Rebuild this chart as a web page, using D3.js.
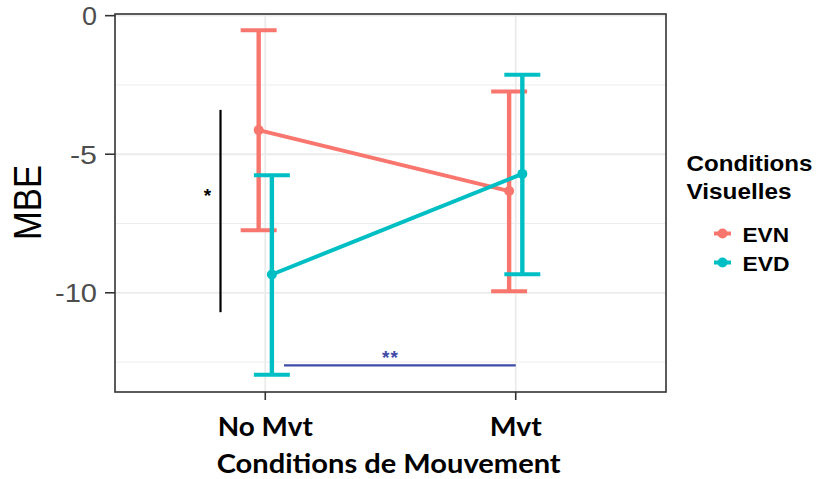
<!DOCTYPE html>
<html><head><meta charset="utf-8">
<script src="https://cdn.jsdelivr.net/npm/d3@7"></script>
<style>body{margin:0;background:#fff}svg{display:block}</style>
</head><body>
<svg id="c" width="819" height="479"></svg>
<script>
const categories = ["No Mvt", "Mvt"];
const seriesNames = ["EVN", "EVD"];
const colors = ["#F8766D", "#00BFC4"];
const meanEVN = [-4.13, -6.33];
const lowEVN = [-7.74, -9.94];
const highEVN = [-0.53, -2.74];
const meanEVD = [-9.34, -5.71];
const lowEVD = [-12.96, -9.33];
const highEVD = [-5.76, -2.13];
const yTicks = [0, -5, -10];
const yMinor = [-2.5, -7.5, -12.5];
const yDomain = [-13.58, 0.06];

const series = [
  {name: seriesNames[0], color: colors[0], mean: meanEVN, low: lowEVN, high: highEVN, dodge: -1},
  {name: seriesNames[1], color: colors[1], mean: meanEVD, low: lowEVD, high: highEVD, dodge: 1}
];

const svg = d3.select("#c");
const L = 115, R = 666, T = 14, B = 392;
const x = d3.scalePoint().domain(categories).range([L, R]).padding(0.6);
const y = d3.scaleLinear().domain(yDomain).range([B, T]);
const dodgePx = 6.6;

// grid
const g = svg.append("g");
g.selectAll(".minor").data(yMinor).join("line")
  .attr("x1", L).attr("x2", R).attr("y1", d => y(d)).attr("y2", d => y(d))
  .attr("stroke", "#EBEBEB").attr("stroke-width", 0.9);
g.selectAll(".major").data(yTicks).join("line")
  .attr("x1", L).attr("x2", R).attr("y1", d => y(d)).attr("y2", d => y(d))
  .attr("stroke", "#EBEBEB").attr("stroke-width", 1.8);
g.selectAll(".vmajor").data(categories).join("line")
  .attr("x1", d => x(d)).attr("x2", d => x(d)).attr("y1", T).attr("y2", B)
  .attr("stroke", "#EBEBEB").attr("stroke-width", 1.8);

// error bars, lines, points
const capW = 18;
series.forEach(s => {
  const sg = svg.append("g");
  const xs = categories.map(c => x(c) + s.dodge * dodgePx);
  categories.forEach((c, i) => {
    sg.append("line").attr("x1", xs[i]).attr("x2", xs[i])
      .attr("y1", y(s.low[i])).attr("y2", y(s.high[i]))
      .attr("stroke", s.color).attr("stroke-width", 4.4);
    [s.low[i], s.high[i]].forEach(v => {
      sg.append("line").attr("x1", xs[i] - capW).attr("x2", xs[i] + capW)
        .attr("y1", y(v)).attr("y2", y(v))
        .attr("stroke", s.color).attr("stroke-width", 4);
    });
  });
  const line = d3.line().x((d, i) => xs[i]).y(d => y(d));
  sg.append("path").attr("d", line(s.mean)).attr("fill", "none")
    .attr("stroke", s.color).attr("stroke-width", 4);
  sg.selectAll("circle").data(s.mean).join("circle")
    .attr("cx", (d, i) => xs[i]).attr("cy", d => y(d)).attr("r", 5)
    .attr("fill", s.color);
});

// significance annotations
svg.append("line").attr("x1", 220.5).attr("x2", 220.5)
  .attr("y1", y(-3.4)).attr("y2", y(-10.7))
  .attr("stroke", "#000").attr("stroke-width", 2.2);
svg.append("text").attr("x", 207.5).attr("y", 202).attr("text-anchor", "middle")
  .attr("font-family", "Liberation Sans, Arial, sans-serif").attr("font-weight", "bold")
  .attr("font-size", 19).attr("fill", "#000").text("*");
svg.append("line").attr("x1", 284).attr("x2", x("Mvt"))
  .attr("y1", y(-12.62)).attr("y2", y(-12.62))
  .attr("stroke", "#3F4BA8").attr("stroke-width", 2.4);
svg.append("text").attr("x", 390.5).attr("y", 364).attr("text-anchor", "middle")
  .attr("font-family", "Liberation Sans, Arial, sans-serif").attr("font-weight", "bold")
  .attr("font-size", 19).attr("fill", "#3F4BA8").attr("letter-spacing", 1).text("**");

// panel border
svg.append("rect").attr("x", L).attr("y", T).attr("width", R - L).attr("height", B - T)
  .attr("fill", "none").attr("stroke", "#333").attr("stroke-width", 1.6);

// y axis ticks and labels
svg.selectAll(".yt").data(yTicks).join("line")
  .attr("x1", L - 10).attr("x2", L).attr("y1", d => y(d)).attr("y2", d => y(d))
  .attr("stroke", "#333").attr("stroke-width", 1.6);
svg.selectAll(".yl").data(yTicks).join("text")
  .attr("x", 97).attr("y", d => y(d) + 9.5).attr("text-anchor", "end")
  .attr("font-family", "Liberation Sans, Arial, sans-serif").attr("font-size", 25.5)
  .attr("fill", "#4D4D4D")
  .attr("textLength", d => String(d).length === 1 ? 15 : (String(d).length === 2 ? 27 : 42))
  .attr("lengthAdjust", "spacingAndGlyphs")
  .text(d => d);

// x axis ticks and labels
svg.selectAll(".xt").data(categories).join("line")
  .attr("x1", d => x(d)).attr("x2", d => x(d)).attr("y1", B).attr("y2", B + 8)
  .attr("stroke", "#333").attr("stroke-width", 1.6);
const xLabelW = {"No Mvt": 95, "Mvt": 52};
svg.selectAll(".xl").data(categories).join("text")
  .attr("x", d => x(d)).attr("y", 436).attr("text-anchor", "middle")
  .attr("font-family", "Lato, 'Open Sans', sans-serif").attr("font-weight", "bold")
  .attr("font-size", 27.5).attr("fill", "#000")
  .attr("textLength", d => xLabelW[d]).attr("lengthAdjust", "spacingAndGlyphs")
  .text(d => d);
svg.append("text").attr("x", 388.7).attr("y", 472.5).attr("text-anchor", "middle")
  .attr("font-family", "Lato, 'Open Sans', sans-serif").attr("font-weight", "bold")
  .attr("font-size", 26.5).attr("fill", "#000")
  .attr("textLength", 344).attr("lengthAdjust", "spacingAndGlyphs")
  .text("Conditions de Mouvement");

// y axis title
svg.append("text").attr("transform", "translate(40.5,202.5) rotate(-90)")
  .attr("text-anchor", "middle")
  .attr("font-family", "Liberation Sans, Arial, sans-serif").attr("font-size", 38)
  .attr("fill", "#000").attr("textLength", 75).attr("lengthAdjust", "spacingAndGlyphs")
  .text("MBE");

// legend
const lg = svg.append("g");
lg.append("text").attr("x", 686.5).attr("y", 170.5)
  .attr("font-family", "Liberation Sans, Arial, sans-serif").attr("font-weight", "bold")
  .attr("font-size", 22).attr("fill", "#000")
  .attr("textLength", 126).attr("lengthAdjust", "spacingAndGlyphs").text("Conditions");
lg.append("text").attr("x", 686.5).attr("y", 199)
  .attr("font-family", "Liberation Sans, Arial, sans-serif").attr("font-weight", "bold")
  .attr("font-size", 22).attr("fill", "#000")
  .attr("textLength", 105).attr("lengthAdjust", "spacingAndGlyphs").text("Visuelles");
const legY = [233.5, 262.5];
const legW = [46.5, 47];
series.forEach((s, i) => {
  lg.append("line").attr("x1", 714).attr("x2", 731).attr("y1", legY[i]).attr("y2", legY[i])
    .attr("stroke", s.color).attr("stroke-width", 4);
  lg.append("circle").attr("cx", 722.5).attr("cy", legY[i]).attr("r", 5).attr("fill", s.color);
  lg.append("text").attr("x", 742.5).attr("y", legY[i] + 8.5)
    .attr("font-family", "Liberation Sans, Arial, sans-serif").attr("font-weight", "bold")
    .attr("font-size", 20).attr("fill", "#000")
    .attr("textLength", legW[i]).attr("lengthAdjust", "spacingAndGlyphs").text(s.name);
});
</script>
</body></html>
